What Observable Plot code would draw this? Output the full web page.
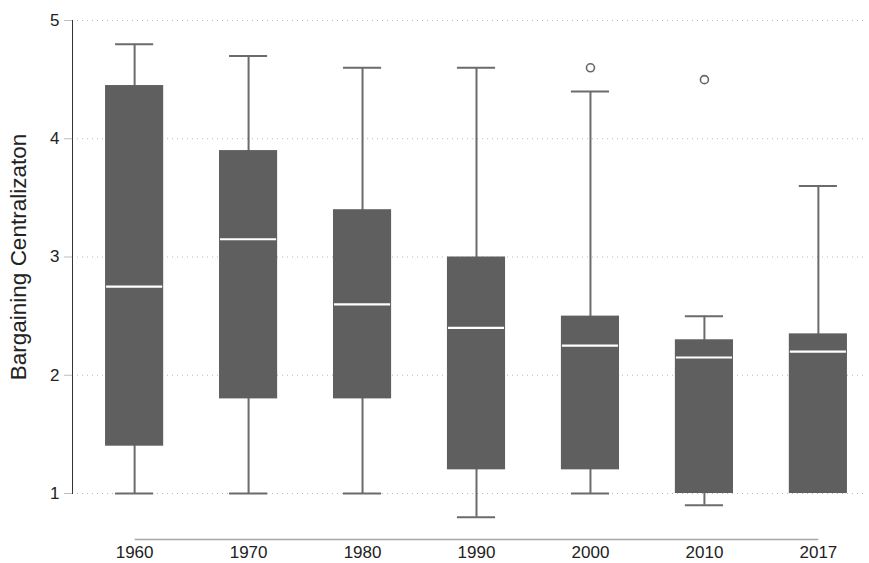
<!DOCTYPE html>
<html>
<head>
<meta charset="utf-8">
<script src="https://cdn.jsdelivr.net/npm/d3@7"></script>
<script src="https://cdn.jsdelivr.net/npm/@observablehq/plot@0.6"></script>
<style>
  html, body { margin: 0; padding: 0; background: #fff; }
  #chart svg { font-family: "Liberation Sans", Arial, sans-serif; }
</style>
</head>
<body>
<div id="chart"></div>
<script>
const years   = ["1960", "1970", "1980", "1990", "2000", "2010", "2017"];
const lowerW  = [1.0, 1.0, 1.0, 0.8, 1.0, 0.9, 1.0];
const q1      = [1.4, 1.8, 1.8, 1.2, 1.2, 1.0, 1.0];
const median  = [2.75, 3.15, 2.6, 2.4, 2.25, 2.15, 2.2];
const q3      = [4.45, 3.9, 3.4, 3.0, 2.5, 2.3, 2.35];
const upperW  = [4.8, 4.7, 4.6, 4.6, 4.4, 2.5, 3.6];
const outlierYears  = ["2000", "2010"];
const outlierValues = [4.6, 4.5];
const yTicks = [1, 2, 3, 4, 5];
const yLabel = "Bargaining Centralizaton";

const boxes = years.map((y, i) => ({
  year: y, lo: lowerW[i], q1: q1[i], med: median[i], q3: q3[i], hi: upperW[i]
}));
const outliers = outlierYears.map((y, i) => ({year: y, v: outlierValues[i]}));

const boxFill = "#5f5f5f";
const whisker = "#6b6b6b";

const plot = Plot.plot({
  width: 869,
  height: 563,
  marginLeft: 72,
  marginRight: 4,
  marginTop: 20,
  marginBottom: 70,
  style: {fontSize: "17px", fontFamily: "'Liberation Sans', Arial, sans-serif", color: "#222"},
  x: {type: "band", domain: years, range: [76, 876], paddingInner: 0.49, paddingOuter: 0.255, round: false},
  y: {domain: [1, 5]},
  marks: [
    Plot.gridY(yTicks, {stroke: "#b8b8b8", strokeOpacity: 1, strokeDasharray: "1,4"}),
    Plot.frame({anchor: "left", stroke: "#333", strokeWidth: 1}),
    Plot.axisY(yTicks, {
      tickSize: 8, tickPadding: 5, stroke: "#bdbdbd", fill: "#222", fontSize: 17,
      tickFormat: d3.format("d"), label: null
    }),
    Plot.axisY({
      ticks: [], tickSize: 0, fill: "#222", fontSize: 22.5,
      label: yLabel, labelAnchor: "center", labelOffset: 62, labelArrow: false
    }),
    Plot.axisX({tickSize: 0, tickPadding: 52, label: null, fill: "#222", fontSize: 17}),
    Plot.link([years], {
      x1: d => d[0], x2: d => d[d.length - 1], y1: () => 1, y2: () => 1,
      dy: 46, stroke: "#a8a8a8", strokeWidth: 1.5
    }),
    Plot.ruleX(boxes, {x: "year", y1: "lo", y2: "hi", stroke: whisker, strokeWidth: 2}),
    Plot.tickY(boxes.filter(d => d.hi > d.q3), {x: "year", y: "hi", stroke: whisker, strokeWidth: 2, insetLeft: 10, insetRight: 10}),
    Plot.tickY(boxes.filter(d => d.lo < d.q1), {x: "year", y: "lo", stroke: whisker, strokeWidth: 2, insetLeft: 10, insetRight: 10}),
    Plot.barY(boxes, {x: "year", y1: "q1", y2: "q3", fill: boxFill}),
    Plot.tickY(boxes, {x: "year", y: "med", stroke: "#fff", strokeWidth: 2.2, insetLeft: 1, insetRight: 1}),
    Plot.dot(outliers, {x: "year", y: "v", r: 4, stroke: "#666", strokeWidth: 1.6, fill: "#fff"})
  ]
});
document.getElementById("chart").appendChild(plot);
</script>
</body>
</html>
